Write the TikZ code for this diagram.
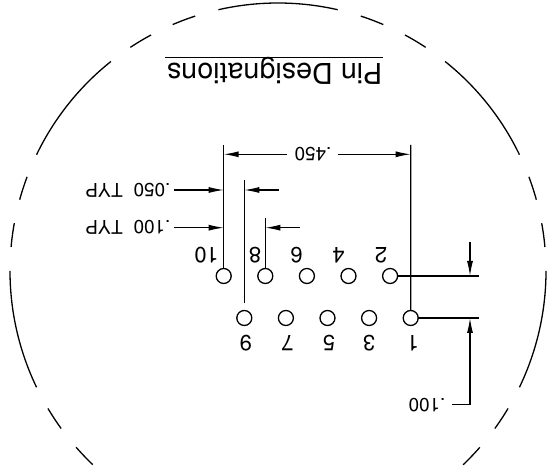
\documentclass[tikz,border=0pt]{standalone}
\usepackage{fontspec}
\setmainfont{TeX Gyre Heros}
\usetikzlibrary{arrows.meta, positioning}

\tikzset{
	rimline/.style={line width=1.3pt},
	dimline/.style={line width=1.1pt},
	dimarrow/.style={line width=1.1pt, -{Latex[length=15pt,width=6pt]}},
	pinhole/.style={circle, draw, line width=1.3pt, minimum size=15pt, inner sep=0pt, outer sep=0pt},
	pinlabel/.style={rotate=180, inner sep=0pt, font=\fontsize{22}{22}\selectfont},
	dimlabel/.style={rotate=180, inner sep=0pt, font=\fontsize{19}{19}\selectfont}
}

\begin{document}
\begin{tikzpicture}[x=1pt, y=1pt]
	\useasboundingbox (0,0) rectangle (557,473);
	\coordinate (rim) at (278,202);

	% outer circle, upside down centre line
	\foreach \a in {-25.71,25.71,77.14,128.57,180}
		\draw[rimline] (rim) ++(\a:268) arc[start angle=\a, delta angle=25.71, radius=268];
	\foreach \a in {-46.29,-36,5.14,15.43,56.57,66.86,108,118.29,159.43,169.71,210.86,221.14}
		\draw[rimline] (rim) ++(\a:268) arc[start angle=\a, delta angle=5.14, radius=268];

	% title
	\node (title) [rotate=180, inner sep=0pt, font=\fontsize{28.7}{29}\selectfont] at (274.6,402.6) {Pin Designations};
	\coordinate (titleL) at (165,415.5);
	\coordinate (titleR) at (383,415.5);
	\draw[dimline] (titleL) -- (titleR);

	% pins
	\node (pin10) [pinhole] at (223.7,197) {};
	\node (pin8) [pinhole, right=26.6pt of pin10] {};
	\node (pin6) [pinhole, right=26.6pt of pin8] {};
	\node (pin4) [pinhole, right=26.6pt of pin6] {};
	\node (pin2) [pinhole, right=26.6pt of pin4] {};
	\node (pin9) [pinhole] at (244.3,155) {};
	\node (pin7) [pinhole, right=26.6pt of pin9] {};
	\node (pin5) [pinhole, right=26.6pt of pin7] {};
	\node (pin3) [pinhole, right=26.6pt of pin5] {};
	\node (pin1) [pinhole, right=26.6pt of pin3] {};

	% pin numbers
	\node (num10) [pinlabel] at (206.5,217.5) {10};
	\node (num8) [pinlabel] at (255,217.5) {8};
	\node (num6) [pinlabel] at (296.5,217.5) {6};
	\node (num4) [pinlabel] at (338.5,217.5) {4};
	\node (num2) [pinlabel] at (381,217.5) {2};
	\node (num9) [pinlabel] at (245.7,130) {9};
	\node (num7) [pinlabel] at (287.5,130) {7};
	\node (num5) [pinlabel] at (329,130) {5};
	\node (num3) [pinlabel] at (369,130) {3};
	\node (num1) [pinlabel] at (413,130) {1};

	% dimension texts
	\node (dim450) [dimlabel] at (313,318.7) {.450};
	\node (dim050) [dimlabel] at (128,283) {.050~~TYP};
	\node (dim100) [dimlabel] at (128,245.3) {.100~~TYP};
	\node (dimrow) [dimlabel] at (427,68) {.100};

	% free ends of the dimension lines
	\coordinate (ext10) at (223.7,328);
	\coordinate (ext1) at (410.7,328);
	\coordinate (ext9) at (244.3,293);
	\coordinate (ext9b) at (244.3,170);
	\coordinate (ext8) at (265.3,255);
	\coordinate (ext2r) at (479.3,197);
	\coordinate (ext1r) at (479.3,155);
	\coordinate (a450L) at (287,318.7);
	\coordinate (b450L) at (223.7,318.7);
	\coordinate (a450R) at (338,318.7);
	\coordinate (b450R) at (410.7,318.7);
	\coordinate (a050L) at (174,283);
	\coordinate (b050L) at (223.7,283);
	\coordinate (a050R) at (278.7,283);
	\coordinate (b050R) at (244.3,283);
	\coordinate (a100L) at (174,245.3);
	\coordinate (b100L) at (223.7,245.3);
	\coordinate (a100R) at (300,245.3);
	\coordinate (b100R) at (265.3,245.3);
	\coordinate (a2) at (470,231.3);
	\coordinate (b2) at (470,197);
	\coordinate (a1) at (452.3,68.3);
	\coordinate (k1) at (470,68.3);
	\coordinate (b1) at (470,155);

	\path[dimline] (ext10) edge (pin10)
	(ext1) edge (pin1)
	(ext9) edge (ext9b)
	(ext8) edge (pin8)
	(pin2) edge (ext2r)
	(pin1) edge (ext1r);

	\path[dimarrow] (a450L) edge (b450L)
	(a450R) edge (b450R)
	(a050L) edge (b050L)
	(a050R) edge (b050R)
	(a100L) edge (b100L)
	(a100R) edge (b100R)
	(a2) edge (b2);

	\draw[dimarrow] (a1) -- (k1) -- (b1);
\end{tikzpicture}
\end{document}
